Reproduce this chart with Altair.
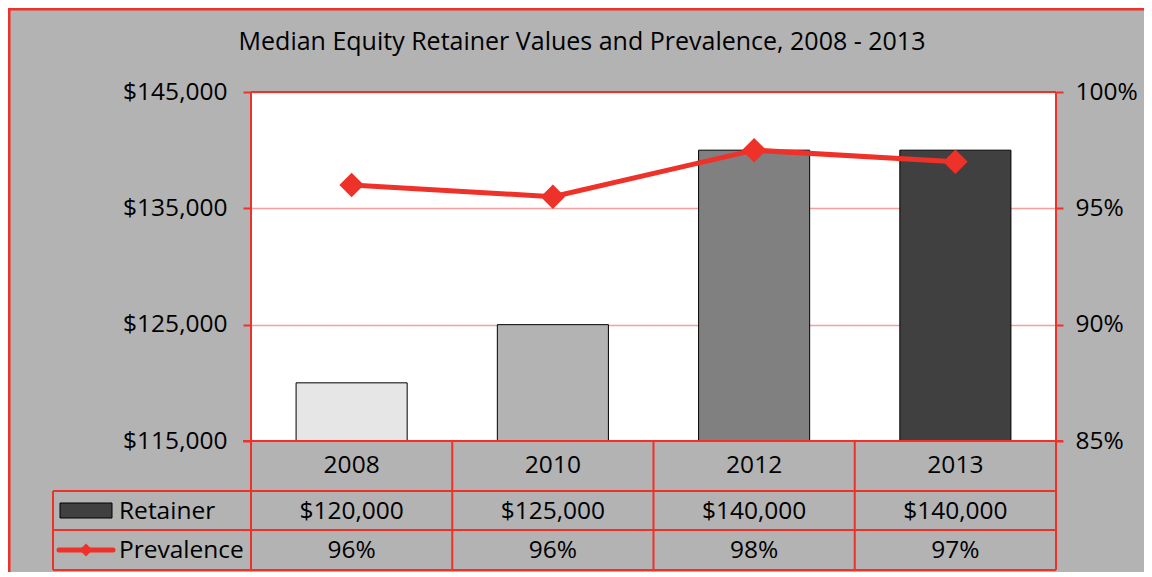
import altair as alt
import pandas as pd

# ---- data ----
years = ["2008", "2010", "2012", "2013"]
retainer = [120000, 125000, 140000, 140000]
prevalence = [96.0, 95.5, 97.5, 97.0]
retainer_labels = ["$120,000", "$125,000", "$140,000", "$140,000"]
prevalence_labels = ["96%", "96%", "98%", "97%"]
bar_colors = ["#e6e6e6", "#b3b3b3", "#808080", "#404040"]
series = ["Retainer", "Prevalence"]
title_text = "Median Equity Retainer Values and Prevalence, 2008 - 2013"
left_ticks = [115000, 125000, 135000, 145000]
right_ticks = [85, 90, 95, 100]
y_min_retainer = 115000

# ---- style ----
W, H = 805, 349
RED = "#ee3129"
GRID = "#f5a09c"
BG = "#b3b3b3"
FONT = "Open Sans"
FS = 24.5
PAD = {"left": 243, "top": 84, "right": 88, "bottom": 131}

df = pd.DataFrame({
    "year": years, "retainer": retainer, "prev": prevalence,
    "rl": retainer_labels, "pl": prevalence_labels,
})

xscale = alt.Scale(domain=years, paddingInner=0, paddingOuter=0)
xc = alt.X("year:N", scale=xscale, axis=None, bandPosition=0.5)

base = alt.Chart(df)

bars = base.mark_bar(width=alt.RelativeBandSize(0.552), stroke="black", strokeWidth=1).encode(
    x=alt.X("year:N", scale=xscale, axis=None),
    y=alt.Y("retainer:Q",
            scale=alt.Scale(domain=[115000, 145000], nice=False, zero=False),
            axis=alt.Axis(values=left_ticks, format="$,.0f", title=None, orient="left",
                          grid=True, gridColor=GRID, gridWidth=1.5, domain=False,
                          tickColor=RED, tickSize=8, tickWidth=2,
                          labelFont=FONT, labelFontSize=FS, labelColor="black",
                          labelPadding=16)),
    y2=alt.datum(y_min_retainer),
    color=alt.Color("year:N", scale=alt.Scale(domain=years, range=bar_colors), legend=None),
)

yr = alt.Y("prev:Q",
           scale=alt.Scale(domain=[85, 100], nice=False, zero=False),
           axis=alt.Axis(values=right_ticks, labelExpr="datum.value + '%'", title=None,
                         orient="right", grid=False, domain=False,
                         tickColor=RED, tickSize=7, tickWidth=2,
                         labelFont=FONT, labelFontSize=FS, labelColor="black",
                         labelPadding=12))

line = base.mark_line(color=RED, strokeWidth=5).encode(x=xc, y=yr)
pts = base.mark_point(shape="diamond", filled=True, size=600, color=RED, opacity=1).encode(x=xc, y=yr)
prev_layer = alt.layer(line, pts)

main = alt.layer(bars, prev_layer).resolve_scale(y="independent")

# plot-area border (drawn on top)
border_df = pd.DataFrame({"k": [0]})
bchart = alt.Chart(border_df)
border = alt.layer(
    bchart.mark_rule(color=RED, strokeWidth=2).encode(x=alt.value(0), y=alt.value(0), y2=alt.value(H)),
    bchart.mark_rule(color=RED, strokeWidth=2).encode(x=alt.value(W), y=alt.value(0), y2=alt.value(H)),
    bchart.mark_rule(color=RED, strokeWidth=2).encode(x=alt.value(0), x2=alt.value(W), y=alt.value(0)),
    bchart.mark_rule(color=RED, strokeWidth=2).encode(x=alt.value(-8), x2=alt.value(W + 7), y=alt.value(H)),
    # outer chart frame (left & top)
    bchart.mark_rule(color=RED, strokeWidth=3).encode(
        x=alt.value(-PAD["left"] + 1), y=alt.value(-PAD["top"]), y2=alt.value(H + PAD["bottom"])),
    bchart.mark_rule(color=RED, strokeWidth=3).encode(
        x=alt.value(-PAD["left"]), x2=alt.value(W + PAD["right"]), y=alt.value(-PAD["top"] + 1)),
)

# ---- data table below the plot ----
R1, R2, R3 = H + 50, H + 89, H + 129  # row lines
tbl_text = dict(font=FONT, fontSize=FS, color="black", baseline="middle", align="center")
years_t = base.mark_text(**tbl_text).encode(x=xc, y=alt.value(H + 25), text="year:N")
ret_t = base.mark_text(**tbl_text).encode(x=xc, y=alt.value((R1 + R2) / 2 + 1), text="rl:N")
prev_t = base.mark_text(**tbl_text).encode(x=xc, y=alt.value((R2 + R3) / 2 + 1), text="pl:N")

vlines = base.mark_rule(color=RED, strokeWidth=2).encode(
    x=alt.X("year:N", scale=xscale, axis=None, bandPosition=0), y=alt.value(H), y2=alt.value(R3))
vline_end = bchart.mark_rule(color=RED, strokeWidth=2).encode(x=alt.value(W), y=alt.value(H), y2=alt.value(R3))
vline_leg = bchart.mark_rule(color=RED, strokeWidth=2).encode(x=alt.value(-198), y=alt.value(R1), y2=alt.value(R3))
hlines = alt.layer(*[
    bchart.mark_rule(color=RED, strokeWidth=2).encode(x=alt.value(-198), x2=alt.value(W), y=alt.value(r))
    for r in (R1, R2, R3)
])

leg_df = pd.DataFrame({"s": series})
lchart = alt.Chart(leg_df)
swatch = bchart.mark_rect(fill="#404040", stroke="black", strokeWidth=1).encode(
    x=alt.value(-191), x2=alt.value(-139), y=alt.value(R1 + 12), y2=alt.value(R1 + 27))
ret_lbl = lchart.transform_filter(alt.datum.s == "Retainer").mark_text(
    font=FONT, fontSize=FS, color="black", baseline="middle", align="left").encode(
    x=alt.value(-132), y=alt.value((R1 + R2) / 2 + 1), text="s:N")
prev_lbl = lchart.transform_filter(alt.datum.s == "Prevalence").mark_text(
    font=FONT, fontSize=FS, color="black", baseline="middle", align="left").encode(
    x=alt.value(-132), y=alt.value((R2 + R3) / 2 + 1), text="s:N")
leg_line = bchart.mark_rule(color=RED, strokeWidth=5, strokeCap="round").encode(
    x=alt.value(-192), x2=alt.value(-138), y=alt.value((R2 + R3) / 2))
leg_pt = bchart.mark_point(shape="diamond", filled=True, size=170, color=RED, opacity=1).encode(
    x=alt.value(-165), y=alt.value((R2 + R3) / 2))

title = alt.Chart(pd.DataFrame({"t": [title_text]})).mark_text(
    font=FONT, fontSize=25, color="black", baseline="middle", align="center").encode(
    x=alt.value(331), y=alt.value(-50), text="t:N")

chart = alt.layer(
    main, years_t, ret_t, prev_t, vlines, vline_end, vline_leg, hlines,
    swatch, ret_lbl, prev_lbl, leg_line, leg_pt, title, border
).properties(
    width=W, height=H,
    autosize=alt.AutoSizeParams(type="none"),
    padding=PAD,
    background=BG,
).configure_view(fill="white", stroke=None)

chart.save("out.html", embed_options={"renderer": "svg", "actions": False})
